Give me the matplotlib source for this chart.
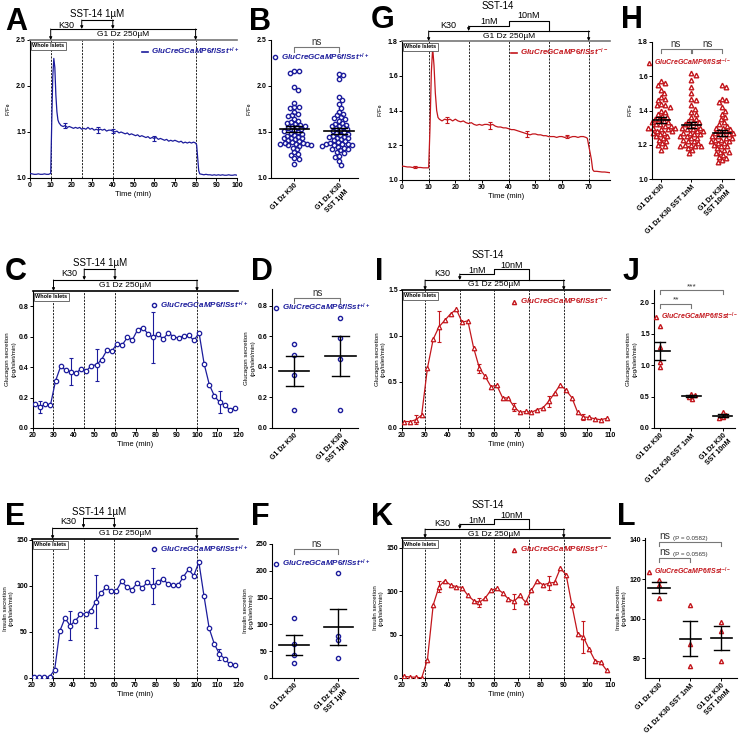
import numpy as np
import matplotlib
matplotlib.use('Agg')
import matplotlib.pyplot as plt
from matplotlib.lines import Line2D
from matplotlib import transforms

plt.rcParams['font.family'] = ['Liberation Sans', 'DejaVu Sans']
plt.rcParams['font.weight'] = 'bold'
plt.rcParams['mathtext.fontset'] = 'custom'
plt.rcParams['mathtext.rm'] = 'Liberation Sans'
plt.rcParams['mathtext.it'] = 'Liberation Sans:italic'
plt.rcParams['mathtext.bf'] = 'Liberation Sans:bold'

BLUE = '#1c1c9c'
RED = '#c3161c'
W = 740

WT_LABEL = r'$\mathit{GluCreGCaMP6f/Sst}^{+/+}$'
KO_LABEL = r'$\mathit{GluCreGCaMP6f/Sst}^{-/-}$'

# ---------------- data ----------------
# A: Ca2+ trace, wild type
a_time = ([0, 1, 2, 3, 4, 5, 6, 7, 8, 9, 10]
          + [10.5, 11, 11.5, 12, 12.5, 13, 13.5]
          + list(range(14, 81))
          + [80.5, 81, 81.5, 82]
          + list(range(83, 101)))
a_ratio = ([1.05, 1.045, 1.04, 1.04, 1.045, 1.04, 1.04, 1.045, 1.04, 1.04, 1.05]
           + [1.6, 2.1, 2.30, 2.2, 1.9, 1.72, 1.63]
           + [1.60, 1.57, 1.56, 1.57, 1.55, 1.56, 1.55, 1.54, 1.55, 1.54, 1.55, 1.53,
              1.54, 1.53, 1.55, 1.53, 1.54, 1.52, 1.53, 1.52, 1.53, 1.52, 1.53, 1.51,
              1.52, 1.52, 1.51, 1.50, 1.51, 1.49, 1.50, 1.49, 1.48, 1.49, 1.47, 1.48,
              1.47, 1.46, 1.47, 1.45, 1.46, 1.45, 1.44, 1.45, 1.43, 1.44, 1.43, 1.44,
              1.42, 1.43, 1.42, 1.41, 1.42, 1.40, 1.41, 1.40, 1.41, 1.40, 1.39, 1.40,
              1.38, 1.39, 1.38, 1.39, 1.38, 1.39, 1.38]
           + [1.36, 1.22, 1.08, 1.045]
           + [1.04, 1.035, 1.04, 1.035, 1.035, 1.03, 1.035, 1.03, 1.035, 1.03, 1.035,
              1.03, 1.03, 1.035, 1.03, 1.03, 1.035, 1.03])
a_err_t = [17, 33, 40, 60]
a_err = [0.03, 0.03, 0.02, 0.03]

# G: Ca2+ trace, knockout
g_time = ([0, 1, 2, 3, 4, 5, 6, 7, 8, 9, 10]
          + [10.5, 11, 11.5, 12, 12.5, 13, 13.5]
          + list(range(14, 70))
          + [69.5, 70, 70.5, 71, 71.5, 72, 72.5]
          + [73, 74, 75, 76, 77, 78])
g_ratio = ([1.08, 1.078, 1.075, 1.075, 1.072, 1.075, 1.072, 1.072, 1.07, 1.07, 1.07]
           + [1.30, 1.62, 1.76, 1.66, 1.50, 1.40, 1.36]
           + [1.35, 1.34, 1.35, 1.345, 1.35, 1.34, 1.35, 1.34, 1.335, 1.34, 1.33, 1.325,
              1.33, 1.32, 1.315, 1.32, 1.315, 1.32, 1.32, 1.315, 1.32, 1.31, 1.305, 1.305,
              1.30, 1.30, 1.295, 1.29, 1.29, 1.285, 1.28, 1.275, 1.27, 1.265, 1.26, 1.265,
              1.265, 1.26, 1.26, 1.255, 1.255, 1.25, 1.25, 1.25, 1.245, 1.25, 1.25, 1.245,
              1.25, 1.245, 1.25, 1.25, 1.245, 1.25, 1.25, 1.245]
           + [1.24, 1.20, 1.16, 1.12, 1.06, 1.05, 1.05]
           + [1.05, 1.048, 1.046, 1.046, 1.044, 1.042])
g_err_t = [5, 17, 33, 47, 62]
g_err = [0.008, 0.015, 0.02, 0.015, 0.01]

# B / H: per-cell F/F0
b_k30 = [2.16, 2.16, 2.14, 1.99, 1.96, 1.82, 1.77, 1.77, 1.76, 1.72, 1.70, 1.68, 1.67,
         1.64, 1.62, 1.61, 1.60, 1.59, 1.58, 1.57, 1.56, 1.55, 1.54, 1.53, 1.52, 1.51,
         1.50, 1.49, 1.48, 1.47, 1.46, 1.45, 1.44, 1.43, 1.43, 1.42, 1.41, 1.40, 1.39,
         1.38, 1.38, 1.37, 1.37, 1.37, 1.36, 1.36, 1.35, 1.33, 1.31, 1.28, 1.26, 1.25,
         1.22, 1.21, 1.15]
b_sst = [2.13, 2.12, 2.08, 1.88, 1.85, 1.80, 1.76, 1.72, 1.70, 1.68, 1.66, 1.65, 1.64,
         1.62, 1.60, 1.59, 1.58, 1.57, 1.56, 1.55, 1.54, 1.53, 1.52, 1.51, 1.50, 1.49,
         1.48, 1.47, 1.46, 1.45, 1.45, 1.44, 1.43, 1.42, 1.41, 1.40, 1.39, 1.38, 1.37,
         1.37, 1.36, 1.36, 1.35, 1.34, 1.33, 1.32, 1.31, 1.30, 1.28, 1.27, 1.24, 1.23,
         1.18, 1.14, 1.37]
h_k30 = [1.57, 1.56, 1.55, 1.52, 1.50, 1.48, 1.47, 1.46, 1.44, 1.43, 1.43, 1.42, 1.40,
         1.39, 1.38, 1.37, 1.36, 1.35, 1.35, 1.34, 1.33, 1.33, 1.32, 1.32, 1.31, 1.31,
         1.30, 1.30, 1.30, 1.29, 1.29, 1.28, 1.28, 1.27, 1.27, 1.26, 1.25, 1.25, 1.24,
         1.23, 1.22, 1.21, 1.20, 1.19, 1.17]
h_sst1 = [1.62, 1.61, 1.58, 1.54, 1.50, 1.47, 1.46, 1.43, 1.41, 1.39, 1.38, 1.36, 1.35,
          1.34, 1.33, 1.32, 1.31, 1.30, 1.30, 1.29, 1.29, 1.28, 1.28, 1.27, 1.26, 1.26,
          1.25, 1.24, 1.23, 1.22, 1.21, 1.20, 1.20, 1.19, 1.19, 1.18, 1.17, 1.15, 1.24,
          1.27, 1.31, 1.33, 1.22, 1.19, 1.25]
h_sst10 = [1.55, 1.54, 1.47, 1.46, 1.45, 1.42, 1.40, 1.38, 1.36, 1.35, 1.33, 1.32, 1.31,
           1.30, 1.29, 1.28, 1.27, 1.27, 1.26, 1.25, 1.25, 1.24, 1.23, 1.22, 1.22, 1.21,
           1.20, 1.19, 1.18, 1.17, 1.16, 1.15, 1.14, 1.13, 1.12, 1.11, 1.10, 1.21, 1.24,
           1.28, 1.30, 1.19, 1.16, 1.26, 1.23]

# C / E: secretion time courses, wild type
wt_time = [21, 23.5, 26, 28.5, 31, 33.5, 36, 38.5, 41, 43.5, 46, 48.5, 51, 53.5, 56,
           58.5, 61, 63.5, 66, 68.5, 71, 73.5, 76, 78.5, 81, 83.5, 86, 88.5, 91, 93.5,
           96, 98.5, 101, 103.5, 106, 108.5, 111, 113.5, 116, 118.5]
c_gcg = [0.16, 0.14, 0.155, 0.15, 0.31, 0.405, 0.38, 0.37, 0.36, 0.39, 0.375, 0.41,
         0.415, 0.45, 0.51, 0.505, 0.555, 0.545, 0.595, 0.58, 0.645, 0.66, 0.62, 0.595,
         0.615, 0.585, 0.625, 0.60, 0.59, 0.605, 0.61, 0.575, 0.625, 0.42, 0.285, 0.21,
         0.17, 0.15, 0.12, 0.13]
c_err_t = [23.5, 38.5, 51, 78.5, 111]
c_err = [0.04, 0.09, 0.105, 0.165, 0.07]
e_ins = [1, 1, 1, 1, 9, 51, 65, 57, 62, 69, 70, 73, 83, 92, 99, 94, 95, 105, 99, 96,
         103, 98, 104, 100, 104, 108, 102, 101, 101, 110, 118, 111, 126, 89, 54, 37,
         26, 21, 15, 14]
e_err_t = [38.5, 51, 78.5, 111]
e_err = [16, 29, 20, 6]

# I / K: secretion time courses, knockout
ko_time = [21, 23.5, 26, 28.5, 31, 33.5, 36, 38.5, 41, 43.5, 46, 48.5, 51, 53.5, 56,
           58.5, 61, 63.5, 66, 68.5, 71, 73.5, 76, 78.5, 81, 83.5, 86, 88.5, 91, 93.5,
           96, 98.5, 101, 103.5, 106, 108.5]
i_gcg = [0.07, 0.07, 0.09, 0.14, 0.65, 0.965, 1.10, 1.17, 1.24, 1.29, 1.15, 1.165,
         0.87, 0.65, 0.56, 0.45, 0.465, 0.33, 0.325, 0.23, 0.17, 0.18, 0.17, 0.20, 0.22,
         0.29, 0.38, 0.47, 0.41, 0.33, 0.17, 0.12, 0.115, 0.10, 0.09, 0.105]
i_err_t = [26, 36, 53.5, 68.5, 83.5, 98.5]
i_err = [0.05, 0.17, 0.05, 0.04, 0.06, 0.03]
k_ins = [2, 1, 1, 0, 21, 84, 105, 112, 107, 105, 104, 95, 89, 87, 92, 101, 103, 98,
         91, 88, 95, 87, 101, 112, 107, 109, 110, 126, 119, 84, 51, 47, 33, 20, 18, 9]
k_err_t = [36, 53.5, 68.5, 83.5, 98.5]
k_err = [6, 5, 9, 8, 18]

# D / F / J / L: per-experiment secretion
d_k30 = [0.55, 0.48, 0.35, 0.115]
d_sst = [0.72, 0.59, 0.455, 0.12]
f_k30 = [112, 63, 42, 28]
f_sst = [195, 78, 70, 38]
j_k30 = [1.62, 1.29, 1.05, 0.97]
j_sst1 = [0.46, 0.50, 0.53, 0.55]
j_sst10 = [0.16, 0.25, 0.21, 0.17]
l_k30 = [119.5, 117.3, 110.5]
l_sst1 = [107, 87, 76]
l_sst10 = [98.5, 94, 78.5]

wt_groups = ['G1 Dz K30', 'G1 Dz K30\nSST 1µM']
ko_groups = ['G1 Dz K30', 'G1 Dz K30 SST 1nM', 'G1 Dz K30\nSST 10nM']

fig = plt.figure(figsize=(7.4, 7.4), dpi=100)


def fy(p):
    return 1 - p / W


def add_ax(l, t, r, b):
    return fig.add_axes([l / W, 1 - b / W, (r - l) / W, (b - t) / W])


def style(ax, top=None):
    ax.spines['right'].set_visible(False)
    if top is None:
        ax.spines['top'].set_visible(False)
    else:
        ax.spines['top'].set_color(top)
        ax.spines['top'].set_linewidth(1.2)
    for s in ('left', 'bottom'):
        ax.spines[s].set_linewidth(0.8)
    ax.tick_params(labelsize=5, width=0.7, length=2, pad=1)


def arrow(ax, tr, x, y_from, y_to):
    ax.annotate('', xy=(x, fy(y_to)), xycoords=tr, xytext=(x, fy(y_from)), textcoords=tr,
                arrowprops=dict(arrowstyle='-|>', color='k', lw=0.7, mutation_scale=4,
                                shrinkA=0, shrinkB=0))


def seg(ax, tr, xs, ys):
    ax.plot(xs, [fy(y) for y in ys], transform=tr, color='k', lw=0.8, clip_on=False)


def htext(ax, tr, x, y, s, fs):
    ax.text(x, fy(y), s, transform=tr, ha='center', va='center', fontsize=fs,
            fontweight='normal')


def header_single(ax, g1, sst, y):
    tr = transforms.blended_transform_factory(ax.transData, fig.transFigure)
    seg(ax, tr, g1, [y['g1'], y['g1']])
    for x in g1:
        arrow(ax, tr, x, y['g1'], y['top'])
    seg(ax, tr, sst, [y['sst'], y['sst']])
    for x in sst:
        arrow(ax, tr, x, y['sst'], y['g1'])
    htext(ax, tr, sum(sst) / 2, y['sst_txt'], 'SST-14 1µM', 7)
    htext(ax, tr, (g1[0] + sst[0]) / 2, y['k30'], 'K30', 6.5)
    htext(ax, tr, sum(g1) / 2, y['g1_txt'], 'G1 Dz 250µM', 6)


def header_step(ax, g1, steps, y, sst_shift):
    tr = transforms.blended_transform_factory(ax.transData, fig.transFigure)
    seg(ax, tr, g1, [y['g1'], y['g1']])
    for x in g1:
        arrow(ax, tr, x, y['g1'], y['top'])
    s0, s1, s2 = steps
    arrow(ax, tr, s0, y['s1'], y['g1'])
    seg(ax, tr, [s0, s1, s1, s2, s2], [y['s1'], y['s1'], y['s2'], y['s2'], y['g1']])
    htext(ax, tr, (s0 + s2) / 2 + sst_shift, y['sst_txt'], 'SST-14', 7)
    htext(ax, tr, (s0 + s1) / 2, y['one'], '1nM', 6.5)
    htext(ax, tr, (s1 + s2) / 2, y['ten'], '10nM', 6.5)
    htext(ax, tr, (g1[0] + s0) / 2, y['k30'], 'K30', 6.5)
    htext(ax, tr, sum(g1) / 2, y['g1_txt'], 'G1 Dz 250µM', 6)


def islets(ax):
    ax.text(0.012, 0.975, 'Whole Islets', transform=ax.transAxes, ha='left', va='top',
            fontsize=4, bbox=dict(boxstyle='square,pad=0.25', fc='white', ec='#555', lw=0.6))


def legend(ax, label, color, marker, loc, anchor, fs=5.8):
    if marker is None:
        h = Line2D([], [], color=color, lw=1.2)
    else:
        h = Line2D([], [], color=color, ls='none', marker=marker, mfc='white', ms=3,
                   mew=1.0)
    ax.legend([h], [label], loc=loc, bbox_to_anchor=anchor, frameon=False, fontsize=fs,
              handlelength=0.7, handletextpad=0.4, borderaxespad=0.1, borderpad=0.1,
              labelcolor=color)


def letter(x, y, s):
    fig.text(x / W, fy(y), s, fontsize=22, fontweight='bold', va='baseline')


def swarm_x(ax, values, center, diam):
    pos = ax.get_position()
    x0, x1 = ax.get_xlim()
    y0, y1 = ax.get_ylim()
    sx = pos.width * W / (x1 - x0)
    sy = pos.height * W / (y1 - y0)
    ys = np.asarray(values, dtype=float) * sy
    placed = []
    xs = np.zeros(len(ys))
    for i in np.argsort(-ys, kind='stable'):
        y = ys[i]
        cands = [0.0]
        for px, py in placed:
            dy = y - py
            if abs(dy) < diam:
                dx = np.sqrt(diam ** 2 - dy ** 2)
                cands += [px + dx, px - dx]
        cands.sort(key=abs)
        for c in cands:
            if all((c - px) ** 2 + (y - py) ** 2 >= diam ** 2 * 0.999 for px, py in placed):
                break
        placed.append((c, y))
        xs[i] = center + c / sx
    return xs


def dots(ax, groups, color, marker, diam, ms, mean_hw, cap_hw):
    for i, vals in enumerate(groups):
        xs = swarm_x(ax, vals, i, diam)
        ax.plot(xs, vals, ls='none', marker=marker, mfc='none', mec=color, ms=ms, mew=1.0,
                zorder=2, clip_on=False)
        m = np.mean(vals)
        se = np.std(vals, ddof=1) / np.sqrt(len(vals))
        ax.plot([i - mean_hw, i + mean_hw], [m, m], color='k', lw=1.2, zorder=3)
        ax.plot([i, i], [m - se, m + se], color='k', lw=1.0, zorder=3)
        for yy in (m - se, m + se):
            ax.plot([i - cap_hw, i + cap_hw], [yy, yy], color='k', lw=1.0, zorder=3)


def bracket(ax, x0, x1, y, h, text, fs=7):
    ax.plot([x0, x0, x1, x1], [y - h, y, y, y - h], color='#777', lw=0.8, clip_on=False)
    ax.text((x0 + x1) / 2, y, text, ha='center', va='bottom', fontsize=fs,
            fontweight='normal', color='#333')


def group_ticks(ax, labels):
    ax.set_xticks(range(len(labels)))
    ax.set_xticklabels(labels, rotation=45, ha='right', rotation_mode='anchor', fontsize=5)


def vlines(ax, xs):
    for x in xs:
        ax.axvline(x, color='k', lw=0.6, ls=(0, (2.5, 1.5)), zorder=0)


def series(ax, t, v, err_t, err, color, marker):
    ax.plot(t, v, color=color, lw=0.9, marker=marker, mfc='white', mec=color, ms=3.2,
            mew=0.9, zorder=3)
    lookup = dict(zip(t, v))
    ax.errorbar(err_t, [lookup[x] for x in err_t], yerr=err, fmt='none', ecolor=color,
                elinewidth=0.8, capsize=1.5, capthick=0.8, zorder=2)


# ---------------- A ----------------
ax = add_ax(30, 40, 237, 178)
style(ax, top='#777')
ax.plot(a_time, a_ratio, color=BLUE, lw=0.9, zorder=3)
lookup = dict(zip(a_time, a_ratio))
ax.errorbar(a_err_t, [lookup[x] for x in a_err_t], yerr=a_err, fmt='none', ecolor=BLUE,
            elinewidth=0.8, capsize=1.5, capthick=0.8)
vlines(ax, [10, 25, 40, 80])
ax.set_xlim(0, 100)
ax.set_ylim(1.0, 2.5)
ax.set_xticks(range(0, 101, 10))
ax.set_yticks([1.0, 1.5, 2.0, 2.5])
ax.set_xlabel('Time (min)', fontsize=5.5, labelpad=1)
ax.set_ylabel('F/F$_0$', fontsize=4.5, labelpad=2)
islets(ax)
legend(ax, WT_LABEL, BLUE, None, 'upper right', (1.02, 0.97))
header_single(ax, [10, 80], [25, 40],
              dict(top=40, g1=29, sst=20, sst_txt=14, k30=25, g1_txt=34.5))
letter(5, 30, 'A')

# ---------------- B ----------------
ax = add_ax(271, 40, 358, 178)
style(ax)
ax.set_xlim(-0.52, 1.42)
ax.set_ylim(1.0, 2.5)
dots(ax, [b_k30, b_sst], BLUE, 'o', 4.3, 3.1, 0.33, 0.18)
ax.set_yticks([1.0, 1.5, 2.0, 2.5])
group_ticks(ax, wt_groups)
ax.set_ylabel('F/F$_0$', fontsize=4.5, labelpad=2)
bracket(ax, 0, 1, 2.42, 0.05, 'ns')
legend(ax, WT_LABEL, BLUE, 'o', 'upper left', (0.0, 0.93))
letter(249, 30, 'B')

# ---------------- G ----------------
ax = add_ax(402, 41, 610, 180)
style(ax, top='#777')
ax.plot(g_time, g_ratio, color=RED, lw=0.9, zorder=3)
lookup = dict(zip(g_time, g_ratio))
ax.errorbar(g_err_t, [lookup[x] for x in g_err_t], yerr=g_err, fmt='none', ecolor=RED,
            elinewidth=0.8, capsize=1.5, capthick=0.8)
vlines(ax, [10, 25, 40, 55, 70])
ax.set_xlim(0, 78)
ax.set_ylim(1.0, 1.8)
ax.set_xticks(range(0, 71, 10))
ax.set_yticks([1.0, 1.2, 1.4, 1.6, 1.8])
ax.set_xlabel('Time (min)', fontsize=5.5, labelpad=1)
ax.set_ylabel('F/F$_0$', fontsize=4.5, labelpad=2)
islets(ax)
legend(ax, KO_LABEL, RED, None, 'upper right', (1.0, 0.97))
header_step(ax, [10, 70], [25, 40, 55],
            dict(top=41, g1=31, s1=26, s2=21, sst_txt=6, one=21.5, ten=16, k30=25.5,
                 g1_txt=36), -4)
letter(371, 28, 'G')

# ---------------- H ----------------
ax = add_ax(652, 42, 734, 179)
style(ax)
ax.set_xlim(-0.3, 2.4)
ax.set_ylim(1.0, 1.8)
dots(ax, [h_k30, h_sst1, h_sst10], RED, '^', 4.6, 3.3, 0.3, 0.16)
ax.set_yticks([1.0, 1.2, 1.4, 1.6, 1.8])
group_ticks(ax, ko_groups)
ax.set_ylabel('F/F$_0$', fontsize=4.5, labelpad=2)
bracket(ax, 0, 0.97, 1.76, 0.025, 'ns')
bracket(ax, 1.03, 2, 1.76, 0.025, 'ns')
legend(ax, KO_LABEL, RED, '^', 'upper left', (-0.08, 0.9), fs=5.0)
letter(621, 28, 'H')

# ---------------- C ----------------
ax = add_ax(33, 291, 238, 428)
style(ax, top='k')
series(ax, wt_time, c_gcg, c_err_t, c_err, BLUE, 'o')
vlines(ax, [30, 45, 60, 100])
ax.set_xlim(20, 120)
ax.set_ylim(0, 0.9)
ax.set_xticks(range(20, 121, 10))
ax.set_yticks([0.0, 0.2, 0.4, 0.6, 0.8])
ax.set_xlabel('Time (min)', fontsize=5.5, labelpad=1)
ax.set_ylabel('Glucagon secretion\n(pg/islet/min)', fontsize=4.5, labelpad=2)
islets(ax)
legend(ax, WT_LABEL, BLUE, 'o', 'upper right', (1.06, 0.95))
header_single(ax, [30, 100], [45, 60],
              dict(top=291, g1=280, sst=269, sst_txt=263, k30=273, g1_txt=285.5))
letter(5, 280, 'C')

# ---------------- D ----------------
ax = add_ax(272, 289, 358, 428)
style(ax)
ax.set_xlim(-0.48, 1.38)
ax.set_ylim(0, 0.91)
dots(ax, [d_k30, d_sst], BLUE, 'o', 4.0, 3.0, 0.33, 0.18)
ax.set_yticks([0.0, 0.2, 0.4, 0.6, 0.8])
group_ticks(ax, wt_groups)
ax.set_ylabel('Glucagon secretion\n(pg/islet/min)', fontsize=4.5, labelpad=2)
bracket(ax, 0, 1, 0.85, 0.03, 'ns')
legend(ax, WT_LABEL, BLUE, 'o', 'upper left', (0.0, 0.92))
letter(251, 280, 'D')

# ---------------- I ----------------
ax = add_ax(402, 290, 610, 428)
style(ax, top='k')
series(ax, ko_time, i_gcg, i_err_t, i_err, RED, '^')
vlines(ax, [30, 45, 60, 75, 90])
ax.set_xlim(20, 110)
ax.set_ylim(0, 1.5)
ax.set_xticks(range(20, 111, 10))
ax.set_yticks([0.0, 0.5, 1.0, 1.5])
ax.set_xlabel('Time (min)', fontsize=5.5, labelpad=1)
ax.set_ylabel('Glucagon secretion\n(pg/islet/min)', fontsize=4.5, labelpad=2)
islets(ax)
legend(ax, KO_LABEL, RED, '^', 'upper right', (1.0, 0.97))
header_step(ax, [30, 90], [45, 60, 75],
            dict(top=290, g1=280, s1=274, s2=269, sst_txt=255, one=270.5, ten=265,
                 k30=274, g1_txt=285), -3)
letter(375, 280, 'I')

# ---------------- J ----------------
ax = add_ax(654, 290, 735, 428)
style(ax)
ax.set_xlim(-0.2, 2.4)
ax.set_ylim(0, 2.2)
dots(ax, [j_k30, j_sst1, j_sst10], RED, '^', 4.0, 3.0, 0.3, 0.16)
ax.set_yticks([0.0, 0.5, 1.0, 1.5, 2.0])
group_ticks(ax, ko_groups)
ax.set_ylabel('Glucagon secretion\n(pg/islet/min)', fontsize=4.5, labelpad=2)
bracket(ax, 0, 1, 1.98, 0.07, '**', fs=6)
bracket(ax, 0, 2, 2.2, 0.07, '***', fs=6)
legend(ax, KO_LABEL, RED, '^', 'upper left', (-0.02, 0.86), fs=5.0)
letter(623, 280, 'J')

# ---------------- E ----------------
ax = add_ax(32, 539, 238, 678)
style(ax, top='k')
series(ax, wt_time, e_ins, e_err_t, e_err, BLUE, 'o')
vlines(ax, [30, 45, 60, 100])
ax.set_xlim(20, 120)
ax.set_ylim(0, 151)
ax.set_xticks(range(20, 121, 10))
ax.set_yticks([0, 50, 100, 150])
ax.set_xlabel('Time (min)', fontsize=5.5, labelpad=1)
ax.set_ylabel('Insulin secretion\n(pg/islet/min)', fontsize=4.5, labelpad=2)
islets(ax)
legend(ax, WT_LABEL, BLUE, 'o', 'upper right', (1.06, 0.98))
header_single(ax, [30, 100], [45, 60],
              dict(top=539, g1=528, sst=518, sst_txt=512, k30=522, g1_txt=533.5))
letter(5, 525, 'E')

# ---------------- F ----------------
ax = add_ax(272, 544, 358, 678)
style(ax)
ax.set_xlim(-0.5, 1.45)
ax.set_ylim(0, 250)
dots(ax, [f_k30, f_sst], BLUE, 'o', 4.0, 3.0, 0.33, 0.18)
ax.set_yticks([0, 50, 100, 150, 200, 250])
group_ticks(ax, wt_groups)
ax.set_ylabel('Insulin secretion\n(pg/islet/min)', fontsize=4.5, labelpad=2)
bracket(ax, 0, 1, 240, 9, 'ns')
legend(ax, WT_LABEL, BLUE, 'o', 'upper left', (0.0, 0.91))
letter(251, 525, 'F')

# ---------------- K ----------------
ax = add_ax(402, 538, 610, 678)
style(ax, top='k')
series(ax, ko_time, k_ins, k_err_t, k_err, RED, '^')
vlines(ax, [30, 45, 60, 75, 90])
ax.set_xlim(20, 110)
ax.set_ylim(0, 161)
ax.set_xticks(range(20, 111, 10))
ax.set_yticks([0, 50, 100, 150])
ax.set_xlabel('Time (min)', fontsize=5.5, labelpad=1)
ax.set_ylabel('Insulin secretion\n(pg/islet/min)', fontsize=4.5, labelpad=2)
islets(ax)
legend(ax, KO_LABEL, RED, '^', 'upper right', (1.0, 0.97))
header_step(ax, [30, 90], [45, 60, 75],
            dict(top=538, g1=529, s1=524, s2=519, sst_txt=505, one=520.5, ten=515,
                 k30=523, g1_txt=534), -3)
letter(371, 525, 'K')

# ---------------- L ----------------
ax = add_ax(645, 538, 737, 678)
style(ax)
ax.set_xlim(-0.45, 2.5)
ax.set_ylim(70, 141)
dots(ax, [l_k30, l_sst1, l_sst10], RED, '^', 4.0, 3.0, 0.34, 0.23)
ax.set_yticks([80, 100, 120, 140])
group_ticks(ax, ko_groups)
ax.set_ylabel('Insulin secretion\n(pg/islet/min)', fontsize=4.5, labelpad=2)
for x1, y, p in [(1, 131, '(P = 0.0565)'), (2, 139, '(P = 0.0582)')]:
    ax.plot([0, 0, x1, x1], [y - 2, y, y, y - 2], color='#777', lw=0.8, clip_on=False)
    ax.text(0, y + 0.5, 'ns', ha='left', va='bottom', fontsize=7.5, fontweight='normal',
            color='#333')
    ax.annotate(p, xy=(0, y + 0.5), xytext=(10, 0), textcoords='offset points',
                ha='left', va='bottom', fontsize=4.5, fontweight='normal', color='#333')
legend(ax, KO_LABEL, RED, '^', 'upper left', (0.0, 0.81), fs=5.0)
letter(617, 525, 'L')

fig.savefig('out.png', dpi=100)
